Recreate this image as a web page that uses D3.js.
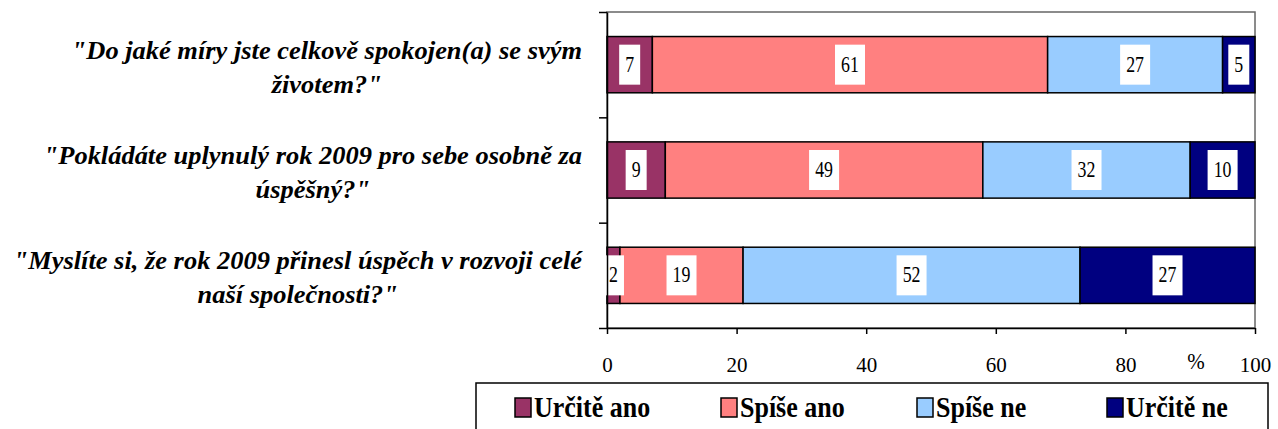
<!DOCTYPE html>
<html>
<head>
<meta charset="utf-8">
<script src="https://d3js.org/d3.v7.min.js"></script>
<style>
  body { margin: 0; background: #fff; }
</style>
</head>
<body>
<svg id="chart" width="1278" height="429"></svg>
<script>

// data
const questions = [
  ['"Do jaké míry jste celkově spokojen(a) se svým', 'životem?"'],
  ['"Pokládáte uplynulý rok 2009 pro sebe osobně za', 'úspěšný?"'],
  ['"Myslíte si, že rok 2009 přinesl úspěch v rozvoji celé', 'naší společnosti?"']
]
const answers = ['Určitě ano', 'Spíše ano', 'Spíše ne', 'Určitě ne']
const urciteAno = [7, 9, 2]
const spiseAno = [61, 49, 19]
const spiseNe = [27, 32, 52]
const urciteNe = [5, 10, 27]
const xTicks = [0, 20, 40, 60, 80, 100]
const colors = ['#993366', '#FF8080', '#99CCFF', '#000080']

const FONT = "'Liberation Serif', 'Times New Roman', Times, serif"

const series = [urciteAno, spiseAno, spiseNe, urciteNe]
const rows = questions.map((q, i) => {
  const r = { key: i }
  answers.forEach((a, j) => r[a] = series[j][i])
  return r
})

const svg = d3.select('#chart')
  .attr('font-family', FONT)

// the original picture is a bit stretched, so texts get a scale
function label(g, px, py, sx, sy, size) {
  return g.append('text')
    .attr('transform', `translate(${px},${py}) scale(${sx},${sy})`)
    .style('font-family', FONT)
    .style('font-size', size + 'px')
}

const plot = { left: 607, right: 1255, top: 12, bottom: 328 }

const x = d3.scaleLinear().domain([0, 100]).range([plot.left, plot.right])
const y = d3.scaleBand().domain(d3.range(questions.length))
  .range([plot.top, plot.bottom]).paddingInner(0.466).paddingOuter(0.233)

const stacked = d3.stack().keys(answers)(rows)

// plot area border
svg.append('rect')
  .attr('x', plot.left).attr('y', plot.top)
  .attr('width', plot.right - plot.left).attr('height', plot.bottom - plot.top)
  .attr('fill', 'none').attr('stroke', '#666').attr('stroke-width', 1.5)

// bars
svg.append('g').selectAll('g')
  .data(stacked)
  .join('g')
    .attr('fill', (d, i) => colors[i])
  .selectAll('rect')
  .data(d => d)
  .join('rect')
    .attr('x', d => x(d[0]))
    .attr('y', (d, i) => y(i))
    .attr('width', d => x(d[1]) - x(d[0]))
    .attr('height', y.bandwidth())
    .attr('stroke', '#000')
    .attr('stroke-width', 1.5)

// value labels
const labels = svg.append('g')
stacked.forEach(s => {
  s.forEach((d, i) => {
    const v = d[1] - d[0]
    const cx = (x(d[0]) + x(d[1])) / 2
    const cy = y(i) + y.bandwidth() / 2
    const t = String(v)
    const w = t.length * 9 + 12
    labels.append('rect')
      .attr('x', cx - w / 2).attr('y', cy - 20)
      .attr('width', w).attr('height', 40)
      .attr('fill', '#fff')
    label(labels, cx, cy + 7, 0.85, 1.1, 21)
      .attr('text-anchor', 'middle')
      .text(t)
  })
})

// x axis
const xAxis = svg.append('g')
  .attr('transform', `translate(0,${plot.bottom})`)
  .call(d3.axisBottom(x).tickValues(xTicks).tickSize(6).tickSizeOuter(0))
xAxis.attr('font-family', FONT)
xAxis.select('.domain').attr('stroke', '#000').attr('stroke-width', 1.5)
xAxis.selectAll('.tick line').attr('stroke', '#000').attr('stroke-width', 1.5)
xAxis.selectAll('.tick text')
  .attr('y', 44).attr('dy', null)
  .style('font-size', '21px')
  .style('font-family', FONT)
  .attr('fill', '#000')

label(svg, 1196, 369, 1, 1.05, 21)
  .attr('text-anchor', 'middle')
  .text('%')

// y axis
const yEdges = d3.scaleLinear().domain([0, questions.length]).range([plot.top, plot.bottom])
const yAxis = svg.append('g')
  .attr('transform', `translate(${plot.left},0)`)
  .call(d3.axisLeft(yEdges).tickValues(d3.range(questions.length + 1)).tickSize(8).tickSizeOuter(0).tickFormat(''))
yAxis.select('.domain').attr('stroke', '#000').attr('stroke-width', 1.5)
yAxis.selectAll('.tick line').attr('stroke', '#000').attr('stroke-width', 1.5)

// category labels, line 1 right aligned, line 2 centred under it
const cat = svg.append('g')
const sx = 1.15
questions.forEach((lines, i) => {
  const cy = y(i) + y.bandwidth() / 2
  const t1 = label(cat, 582, cy - 6, sx, 1.1, 23)
    .attr('text-anchor', 'end')
    .style('font-weight', 'bold')
    .style('font-style', 'italic')
    .text(lines[0])
  const w = t1.node().getComputedTextLength() * sx
  label(cat, 582 - w / 2, cy + 28, sx, 1.1, 23)
    .attr('text-anchor', 'middle')
    .style('font-weight', 'bold')
    .style('font-style', 'italic')
    .text(lines[1])
})

// legend
svg.append('rect')
  .attr('x', 476).attr('y', 383)
  .attr('width', 792).attr('height', 50)
  .attr('fill', '#fff').attr('stroke', '#000').attr('stroke-width', 1.5)

const legendX = [515, 721, 917, 1107]
const legend = svg.append('g').selectAll('g')
  .data(answers)
  .join('g')
    .attr('transform', (d, i) => `translate(${legendX[i]},398)`)
legend.append('rect')
  .attr('width', 16).attr('height', 19)
  .attr('fill', (d, i) => colors[i])
  .attr('stroke', '#000').attr('stroke-width', 1.5)
legend.append('text')
  .attr('transform', 'translate(19,19) scale(1,1.15)')
  .style('font-family', FONT)
  .style('font-size', '26px')
  .style('font-weight', 'bold')
  .text(d => d)

</script>
</body>
</html>
